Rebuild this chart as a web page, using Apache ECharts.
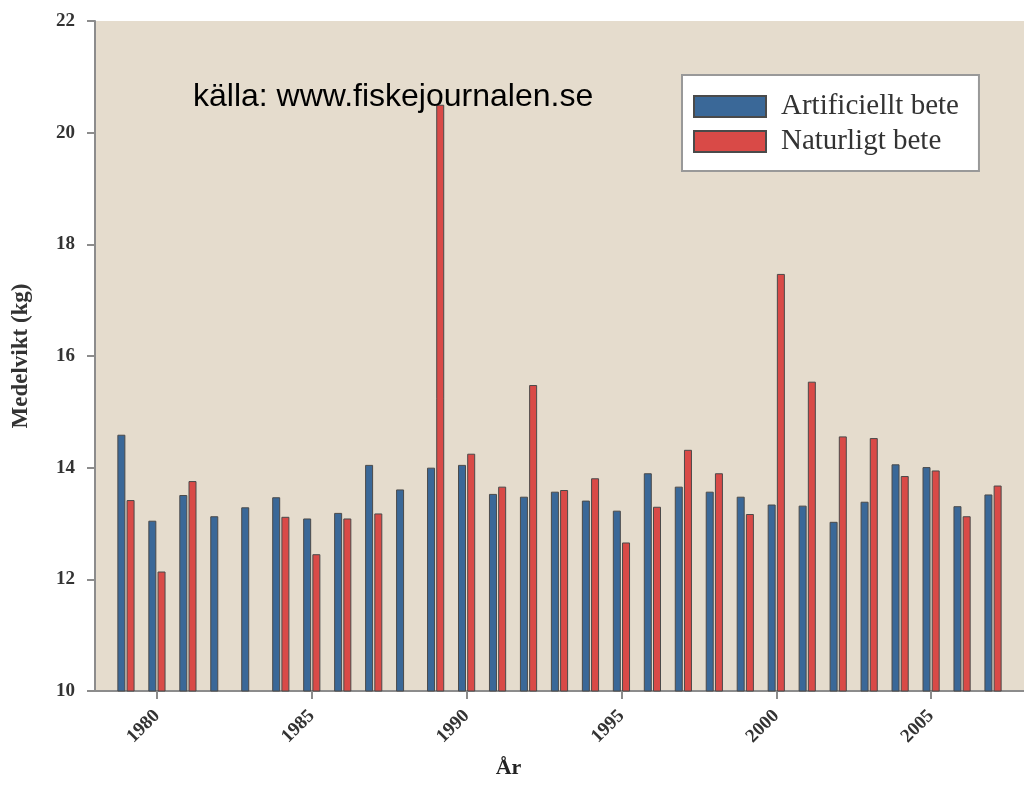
<!DOCTYPE html>
<html>
<head>
<meta charset="utf-8">
<title>Medelvikt per år</title>
<script src="https://cdn.jsdelivr.net/npm/echarts@6/dist/echarts.min.js"></script>
<style>
  html, body { margin: 0; padding: 0; background: #fff; }
  #chart { width: 1024px; height: 805px; }
</style>
</head>
<body>
<div id="chart"></div>
<script>
// years shown as bar groups
let years = [1979, 1980, 1981, 1982, 1983, 1984, 1985, 1986, 1987, 1988,
  1989, 1990, 1991, 1992, 1993, 1994, 1995, 1996, 1997, 1998,
  1999, 2000, 2001, 2002, 2003, 2004, 2005, 2006, 2007]

// Artificiellt bete (kg)
let artificial = [14.59, 13.05, 13.51, 13.13, 13.29, 13.47, 13.09, 13.19, 14.05, 13.61,
  14.0, 14.05, 13.53, 13.48, 13.57, 13.41, 13.23, 13.9, 13.66, 13.57,
  13.48, 13.34, 13.32, 13.03, 13.39, 14.06, 14.01, 13.31, 13.52]

// Naturligt bete (kg), no value for 1982, 1983, 1988
let natural = [13.42, 12.14, 13.76, null, null, 13.12, 12.45, 13.09, 13.18, null,
  20.5, 14.25, 13.66, 15.48, 13.6, 13.81, 12.66, 13.3, 14.32, 13.9,
  13.17, 17.47, 15.54, 14.56, 14.53, 13.85, 13.95, 13.13, 13.68]

let yTicks = { min: 10, max: 22, step: 2 }

// axis runs one year past the data on each side
let categories = [String(years[0] - 1)].concat(years.map(String), [String(years[years.length - 1] + 1)])
let pad = (arr) => [null].concat(arr, [null])

let serif = 'Liberation Serif'
let chart = echarts.init(document.getElementById('chart'))

chart.setOption({
  animation: false,
  title: {
    text: 'källa: www.fiskejournalen.se',
    left: 193,
    top: 81,
    padding: 0,
    textStyle: {
      fontFamily: 'Liberation Sans',
      fontWeight: 'normal',
      fontSize: 32,
      color: '#000'
    }
  },
  legend: {
    orient: 'vertical',
    left: 682,
    top: 75,
    padding: [17, 20, 15, 11],
    itemWidth: 72,
    itemHeight: 21,
    itemGap: 6,
    backgroundColor: '#fff',
    borderColor: '#999',
    borderWidth: 2,
    icon: 'rect',
    textStyle: {
      fontFamily: serif,
      fontSize: 29,
      lineHeight: 22,
      color: '#333',
      padding: [0, 0, 0, 10]
    },
    data: ['Artificiellt bete', 'Naturligt bete']
  },
  grid: {
    left: 95,
    right: -4,
    top: 21,
    bottom: 114,
    show: true,
    backgroundColor: '#e5dccd',
    borderWidth: 0
  },
  xAxis: {
    type: 'category',
    data: categories,
    boundaryGap: false,
    name: 'År',
    nameLocation: 'middle',
    nameGap: 66,
    nameTextStyle: {
      fontFamily: serif,
      fontWeight: 'bold',
      fontSize: 22,
      color: '#222',
      padding: [0, 102, 0, 0]
    },
    axisLine: { lineStyle: { color: '#8c8c8c', width: 2 } },
    axisTick: {
      interval: (i, v) => Number(v) % 5 === 0,
      length: 8,
      lineStyle: { color: '#8c8c8c', width: 2 }
    },
    axisLabel: {
      interval: (i, v) => Number(v) % 5 === 0,
      rotate: 45,
      margin: 22,
      fontFamily: serif,
      fontWeight: 'bold',
      fontSize: 19,
      color: '#333'
    },
    splitLine: { show: false }
  },
  yAxis: {
    type: 'value',
    min: yTicks.min,
    max: yTicks.max,
    interval: yTicks.step,
    name: 'Medelvikt (kg)',
    nameLocation: 'middle',
    nameGap: 62,
    nameTextStyle: {
      fontFamily: serif,
      fontWeight: 'bold',
      fontSize: 23,
      color: '#333'
    },
    axisLine: { show: true, lineStyle: { color: '#8c8c8c', width: 2 } },
    axisTick: { show: true, length: 8, lineStyle: { color: '#8c8c8c', width: 2 } },
    axisLabel: {
      margin: 20,
      fontFamily: serif,
      fontWeight: 'bold',
      fontSize: 19,
      color: '#333'
    },
    splitLine: { show: false }
  },
  series: [
    {
      name: 'Artificiellt bete',
      type: 'bar',
      data: pad(artificial),
      barWidth: 8,
      barGap: '15%',
      itemStyle: { color: '#3a6898', borderColor: '#4a4a4a', borderWidth: 1 }
    },
    {
      name: 'Naturligt bete',
      type: 'bar',
      data: pad(natural),
      barWidth: 8,
      barGap: '15%',
      itemStyle: { color: '#d94a47', borderColor: '#4a4a4a', borderWidth: 1 }
    }
  ]
})
</script>
</body>
</html>
